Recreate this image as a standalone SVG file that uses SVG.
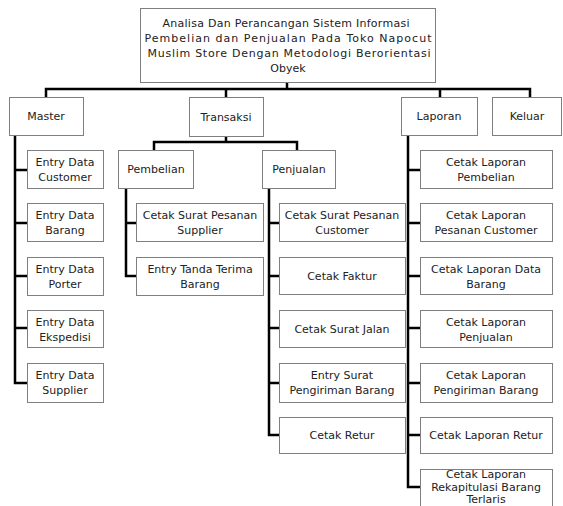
<svg xmlns="http://www.w3.org/2000/svg" width="563" height="506" viewBox="0 0 563 506">
<style>
.b{fill:#fff;stroke:#7f7f7f;stroke-width:1}
.t{font-family:"DejaVu Sans",Verdana,sans-serif;font-size:11px;fill:#222;text-anchor:middle}
.c{fill:none;stroke:#000;stroke-width:2.5;stroke-linejoin:miter;stroke-linecap:square}
</style>
<rect width="563" height="506" fill="#fff"/>
<g id="connectors">
<path class="c" d="M287 82V89M46 97V89H530V97M226 89V97M440 89V97"/>
<path class="c" d="M226 136V142M154 150V142H297V150"/>
<path class="c" d="M15 135V383H27M15 170H27M15 223H27M15 276H27M15 328H27"/>
<path class="c" d="M126 188V276H136M126 223H136"/>
<path class="c" d="M269 188V435H279M269 223H279M269 276H279M269 328H279M269 383H279"/>
<path class="c" d="M408 134V487H420M408 170H420M408 223H420M408 276H420M408 328H420M408 383H420M408 435H420"/>
</g>
<g id="root"><rect class="b" x="140.5" y="8.5" width="295" height="74"/>
<text class="t" x="286" y="27" textLength="247" lengthAdjust="spacing">Analisa Dan Perancangan Sistem Informasi</text>
<text class="t" x="288" y="42" textLength="287" lengthAdjust="spacing">Pembelian dan Penjualan Pada Toko Napocut</text>
<text class="t" x="289" y="57" textLength="283" lengthAdjust="spacing">Muslim Store Dengan Metodologi Berorientasi</text>
<text class="t" x="288" y="72">Obyek</text></g>
<g id="master"><rect class="b" x="9.5" y="97.5" width="74" height="38"/><text class="t" x="46" y="120">Master</text></g>
<g id="transaksi"><rect class="b" x="189.5" y="97.5" width="74" height="39"/><text class="t" x="226" y="121">Transaksi</text></g>
<g id="laporan"><rect class="b" x="401.5" y="97.5" width="76" height="38"/><text class="t" x="439" y="120">Laporan</text></g>
<g id="keluar"><rect class="b" x="492.5" y="97.5" width="69" height="38"/><text class="t" x="527" y="120">Keluar</text></g>
<g id="pembelian"><rect class="b" x="118.5" y="150.5" width="75" height="38"/><text class="t" x="156" y="173">Pembelian</text></g>
<g id="penjualan"><rect class="b" x="262.5" y="150.5" width="73" height="38"/><text class="t" x="299" y="173">Penjualan</text></g>
<g id="m1"><rect class="b" x="27.5" y="150.5" width="76" height="38"/><text class="t" x="65" y="166">Entry Data</text><text class="t" x="65" y="181">Customer</text></g>
<g id="m2"><rect class="b" x="27.5" y="203.5" width="76" height="38"/><text class="t" x="65" y="219">Entry Data</text><text class="t" x="65" y="234">Barang</text></g>
<g id="m3"><rect class="b" x="27.5" y="257.5" width="76" height="38"/><text class="t" x="65" y="273">Entry Data</text><text class="t" x="65" y="288">Porter</text></g>
<g id="m4"><rect class="b" x="27.5" y="310.5" width="76" height="37"/><text class="t" x="65" y="326">Entry Data</text><text class="t" x="65" y="341">Ekspedisi</text></g>
<g id="m5"><rect class="b" x="27.5" y="363.5" width="76" height="39"/><text class="t" x="65" y="379">Entry Data</text><text class="t" x="65" y="394">Supplier</text></g>
<g id="pb1"><rect class="b" x="136.5" y="203.5" width="127" height="38"/><text class="t" x="200" y="219">Cetak Surat Pesanan</text><text class="t" x="200" y="234">Supplier</text></g>
<g id="pb2"><rect class="b" x="136.5" y="257.5" width="127" height="38"/><text class="t" x="200" y="273">Entry Tanda Terima</text><text class="t" x="200" y="288">Barang</text></g>
<g id="pj1"><rect class="b" x="279.5" y="203.5" width="126" height="38"/><text class="t" x="342" y="219">Cetak Surat Pesanan</text><text class="t" x="342" y="234">Customer</text></g>
<g id="pj2"><rect class="b" x="279.5" y="257.5" width="126" height="37"/><text class="t" x="342" y="280">Cetak Faktur</text></g>
<g id="pj3"><rect class="b" x="279.5" y="310.5" width="126" height="37"/><text class="t" x="342" y="333">Cetak Surat Jalan</text></g>
<g id="pj4"><rect class="b" x="279.5" y="363.5" width="126" height="39"/><text class="t" x="342" y="379">Entry Surat</text><text class="t" x="342" y="394">Pengiriman Barang</text></g>
<g id="pj5"><rect class="b" x="279.5" y="417.5" width="126" height="36"/><text class="t" x="342" y="439">Cetak Retur</text></g>
<g id="l1"><rect class="b" x="420.5" y="150.5" width="132" height="38"/><text class="t" x="486" y="166">Cetak Laporan</text><text class="t" x="486" y="181">Pembelian</text></g>
<g id="l2"><rect class="b" x="420.5" y="203.5" width="132" height="38"/><text class="t" x="486" y="219">Cetak Laporan</text><text class="t" x="486" y="234">Pesanan Customer</text></g>
<g id="l3"><rect class="b" x="420.5" y="257.5" width="132" height="37"/><text class="t" x="486" y="273">Cetak Laporan Data</text><text class="t" x="486" y="288">Barang</text></g>
<g id="l4"><rect class="b" x="420.5" y="310.5" width="132" height="37"/><text class="t" x="486" y="326">Cetak Laporan</text><text class="t" x="486" y="341">Penjualan</text></g>
<g id="l5"><rect class="b" x="420.5" y="363.5" width="132" height="39"/><text class="t" x="486" y="379">Cetak Laporan</text><text class="t" x="486" y="394">Pengiriman Barang</text></g>
<g id="l6"><rect class="b" x="420.5" y="417.5" width="132" height="36"/><text class="t" x="486" y="439">Cetak Laporan Retur</text></g>
<g id="l7"><rect class="b" x="420.5" y="469.5" width="132" height="50"/><text class="t" x="486" y="478">Cetak Laporan</text><text class="t" x="486" y="491">Rekapitulasi Barang</text><text class="t" x="486" y="503">Terlaris</text></g>
</svg>
